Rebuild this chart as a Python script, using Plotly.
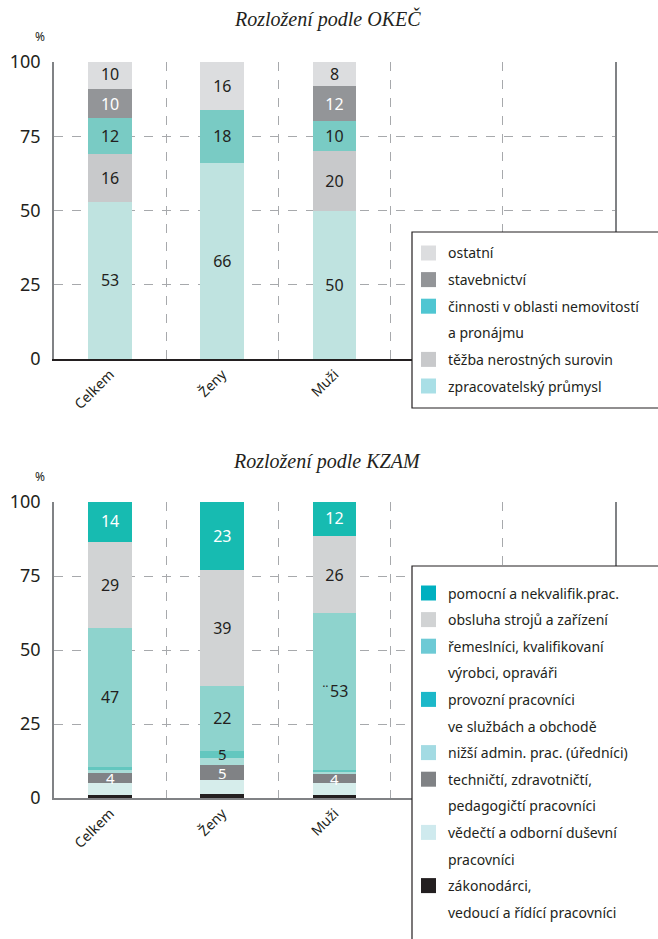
import plotly.graph_objects as go

W, H = 658, 939

categories = ["Celkem", "Ženy", "Muži"]

# ---- Chart 1: Rozložení podle OKEČ (stacked bottom -> top)
okec_names = ["zpracovatelský průmysl", "těžba nerostných surovin",
              "činnosti v oblasti nemovitostí\na pronájmu", "stavebnictví", "ostatní"]
zpracovatelsky = [53, 66, 50]
tezba = [16, 0, 20]
cinnosti = [12, 18, 10]
stavebnictvi = [10, 0, 12]
ostatni = [10, 16, 8]
okec_values = [zpracovatelsky, tezba, cinnosti, stavebnictvi, ostatni]
okec_labels = [[str(v) if v else "" for v in s] for s in okec_values]
okec_bar_colors = ["#bfe3e0", "#c8c9cb", "#79cbc4", "#939598", "#dcdddf"]
okec_legend_colors = ["#a9dfe6", "#c8c9cb", "#4fc6d2", "#939598", "#dcdddf"]
okec_text_colors = ["#231f20", "#231f20", "#231f20", "#ffffff", "#231f20"]

# ---- Chart 2: Rozložení podle KZAM (stacked bottom -> top)
kzam_names = ["zákonodárci,\nvedoucí a řídící pracovníci",
              "vědečtí a odborní duševní\npracovníci",
              "techničtí, zdravotničtí,\npedagogičtí pracovníci",
              "nižší admin. prac. (úředníci)",
              "provozní pracovníci\nve službách a obchodě",
              "řemeslníci, kvalifikovaní\nvýrobci, opraváři",
              "obsluha strojů a zařízení",
              "pomocní a nekvalifik.prac."]
zakonodarci = [1, 1.5, 1]
vedecti = [4, 4.5, 4]
technicti = [3.5, 5, 3]
nizsi_admin = [1, 2.5, 1]
provozni = [1, 2.5, 0.5]
remeslnici = [47, 22, 53]
obsluha = [29, 39, 26]
pomocni = [14, 23, 12]
kzam_values = [zakonodarci, vedecti, technicti, nizsi_admin, provozni,
               remeslnici, obsluha, pomocni]
kzam_labels = [["", "", ""], ["", "", ""], ["4", "5", "4"], ["", "", ""],
               ["", "5", ""], ["47", "22", "¨53"], ["29", "39", "26"],
               ["14", "23", "12"]]
kzam_bar_colors = ["#231f20", "#d6edeb", "#808285", "#a9dcd7", "#63c7bf",
                   "#8ed3cd", "#d1d3d4", "#17bbb1"]
kzam_legend_colors = ["#231f20", "#cfeaee", "#808285", "#a3dbe3", "#1cb8c9",
                      "#6dcad5", "#d1d3d4", "#00b0c0"]
kzam_text_colors = ["#231f20", "#231f20", "#ffffff", "#231f20", "#231f20",
                    "#231f20", "#231f20", "#ffffff"]
# thin segments whose labels are drawn on top (as annotations) so they stay visible
kzam_thin = [False, False, True, False, True, False, False, False]

y_ticks = [0, 25, 50, 75, 100]

FONT = "Noto Sans"
DARK = "#231f20"

def px_x(p):
    return p / W

def px_y(p):
    return 1 - p / H

fig = go.Figure()
xpos = list(range(len(categories)))
shapes = []
annotations = []

for vals, labs, name, col, tcol in zip(okec_values, okec_labels, okec_names,
                                       okec_bar_colors, okec_text_colors):
    fig.add_trace(go.Bar(x=xpos, y=vals, text=labs, name=name.replace("\n", " "),
                         marker=dict(color=col, line=dict(width=0)),
                         textposition="inside", insidetextanchor="middle", textangle=0,
                         textfont=dict(color=tcol, size=16, family=FONT),
                         xaxis="x", yaxis="y", showlegend=False, hoverinfo="skip"))

base = [0.0] * len(categories)
for vals, labs, name, col, tcol, thin in zip(kzam_values, kzam_labels, kzam_names,
                                             kzam_bar_colors, kzam_text_colors, kzam_thin):
    fig.add_trace(go.Bar(x=xpos, y=vals, text=None if thin else labs,
                         name=name.replace("\n", " "),
                         marker=dict(color=col, line=dict(width=0)),
                         textposition="inside", insidetextanchor="middle", textangle=0,
                         textfont=dict(color=tcol, size=16, family=FONT),
                         xaxis="x2", yaxis="y2", showlegend=False, hoverinfo="skip"))
    if thin:
        for i, (v, lab) in enumerate(zip(vals, labs)):
            if lab:
                annotations.append(dict(text=lab, xref="x2", yref="y2", x=xpos[i],
                                        y=base[i] + v / 2, xanchor="center",
                                        yanchor="middle", showarrow=False,
                                        font=dict(size=15, family=FONT, color=tcol)))
    base = [b + v for b, v in zip(base, vals)]

xdom = [px_x(54), px_x(615)]

def xaxis_cfg(anchor, linecolor):
    return dict(domain=xdom, anchor=anchor, range=[-0.5, 4.5], tickmode="array",
                tickvals=xpos, ticktext=categories, tickangle=-45,
                tickfont=dict(size=14, family=FONT, color=DARK),
                showgrid=False, zeroline=False, showline=True, linecolor=linecolor,
                linewidth=1.5, ticks="", fixedrange=True, automargin=False,
                minor=dict(tickmode="array", tickvals=[0.5, 1.5, 2.5, 3.5], showgrid=True,
                           gridcolor="#a7a9ac", griddash="dash", gridwidth=1, ticks=""))

def yaxis_cfg(anchor, top, bottom):
    return dict(domain=[px_y(bottom), px_y(top)], anchor=anchor, range=[0, 100],
                tickmode="array", tickvals=y_ticks,
                tickfont=dict(size=18, family=FONT, color=DARK),
                showgrid=True, gridcolor="#a7a9ac", griddash="dash", gridwidth=1,
                zeroline=False, showline=True, linecolor="#808285", linewidth=1.5,
                mirror=True, ticks="", ticklabelstandoff=8, fixedrange=True,
                automargin=False)

def add_legend(names, colors, box_top, box_bottom, first_line):
    shapes.append(dict(type="rect", xref="paper", yref="paper",
                       x0=px_x(412), x1=px_x(662), y0=px_y(box_bottom), y1=px_y(box_top),
                       fillcolor="white", line=dict(color=DARK, width=1.2), layer="above"))
    line_y = first_line
    step = 26.6
    for name, col in zip(names, colors):
        shapes.append(dict(type="rect", xref="paper", yref="paper",
                           x0=px_x(421), x1=px_x(436),
                           y0=px_y(line_y + 7.5), y1=px_y(line_y - 7.5),
                           fillcolor=col, line=dict(width=0), layer="above"))
        for ln in name.split("\n"):
            annotations.append(dict(text=ln, xref="paper", yref="paper",
                                    x=px_x(446), y=px_y(line_y), xanchor="left",
                                    yanchor="middle", showarrow=False,
                                    font=dict(size=14, family=FONT, color=DARK)))
            line_y += step

add_legend(okec_names[::-1], okec_legend_colors[::-1], 232, 408, 253)
add_legend(kzam_names[::-1], kzam_legend_colors[::-1], 566, 942, 593)

for title, ty in [("Rozložení podle OKEČ", 19), ("Rozložení podle KZAM", 462)]:
    annotations.append(dict(text=f"<i>{title}</i>", xref="paper", yref="paper",
                            x=px_x(327), y=px_y(ty), xanchor="center", yanchor="middle",
                            showarrow=False,
                            font=dict(size=20, family="Liberation Serif", color=DARK)))
for py in [36, 476]:
    annotations.append(dict(text="%", xref="paper", yref="paper", x=px_x(40), y=px_y(py),
                            xanchor="center", yanchor="middle", showarrow=False,
                            font=dict(size=12, family=FONT, color=DARK)))

fig.update_layout(
    width=W, height=H, margin=dict(l=0, r=0, t=0, b=0, pad=0, autoexpand=False),
    autosize=False,
    paper_bgcolor="white", plot_bgcolor="white",
    barmode="stack", bargap=0.61,
    uniformtext=dict(minsize=16, mode="show"),
    showlegend=False,
    xaxis=xaxis_cfg("y", DARK),
    yaxis=yaxis_cfg("x", 62, 359),
    xaxis2=xaxis_cfg("y2", "#808285"),
    yaxis2=yaxis_cfg("x2", 502, 798),
    shapes=shapes, annotations=annotations,
)

fig.write_html("out.html", config={"displayModeBar": False},
               post_script="document.body.style.margin='0';document.body.style.overflow='hidden';")
